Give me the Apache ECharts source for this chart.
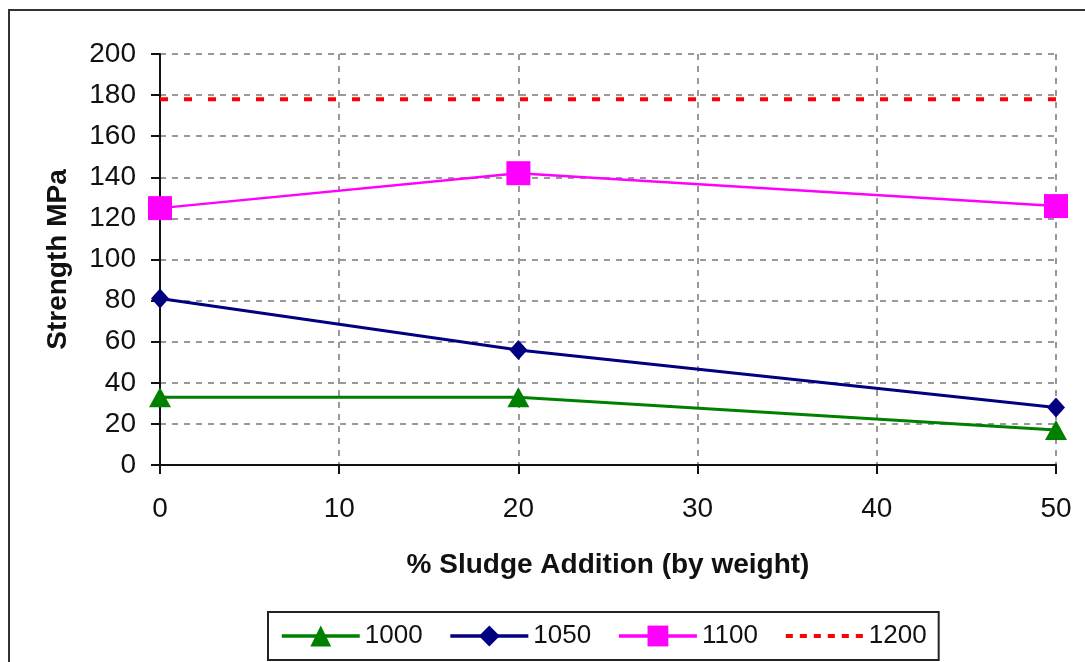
<!DOCTYPE html>
<html>
<head>
<meta charset="utf-8">
<script src="https://cdn.jsdelivr.net/npm/echarts@6/dist/echarts.min.js"></script>
<style>
  html, body { margin: 0; padding: 0; background: #fff; }
  #chart { width: 1085px; height: 662px; }
</style>
</head>
<body>
<div id="chart"></div>
<script>
// sludge addition (% by weight)
var sludge = [0, 20, 50];
var s1000 = [33, 33, 17];
var s1050 = [81, 56, 28];
var s1100 = [125, 142, 126];
var s1200 = [178, 178];
var s1200x = [0, 50];
var seriesNames = ['1000', '1050', '1100', '1200'];

function pairs(xs, ys) {
  return xs.map(function (x, i) { return [x, ys[i]]; });
}

var chart = echarts.init(document.getElementById('chart'));
var font = 'Liberation Sans, Arial, sans-serif';

var option = {
  animation: false,
  backgroundColor: '#fff',
  textStyle: { fontFamily: font },
  graphic: [{
    type: 'rect',
    shape: { x: 9, y: 10, width: 1100, height: 700 },
    style: { fill: 'none', stroke: '#333', lineWidth: 2 },
    silent: true
  }],
  grid: { left: 160, right: 29, top: 54, bottom: 197 },
  legend: {
    data: [
      seriesNames[0], seriesNames[1], seriesNames[2],
      { name: seriesNames[3], itemStyle: { opacity: 0 }, lineStyle: { type: [7, 7], width: 4 } }
    ],
    left: 268,
    top: 612,
    padding: [11, 12, 11, 12],
    itemWidth: 78,
    itemHeight: 26,
    itemGap: 26,
    borderColor: '#222',
    borderWidth: 2,
    borderRadius: 0,
    lineStyle: { width: 3.5 },
    textStyle: { fontSize: 26, color: '#111', fontFamily: font }
  },
  xAxis: {
    type: 'value',
    min: 0, max: 50, interval: 10,
    name: '% Sludge Addition (by weight)',
    nameLocation: 'middle',
    nameGap: 86,
    nameTextStyle: { fontSize: 28, fontWeight: 'bold', color: '#111' },
    axisLine: { lineStyle: { color: '#111', width: 2 } },
    axisTick: { show: true, length: 9, lineStyle: { color: '#111', width: 2 } },
    axisLabel: { fontSize: 28, color: '#111', margin: 30 },
    splitLine: { show: true, lineStyle: { color: '#999', width: 2, type: [6, 6] } }
  },
  yAxis: {
    type: 'value',
    min: 0, max: 200, interval: 20,
    name: 'Strength MPa',
    nameLocation: 'middle',
    nameGap: 88,
    nameRotate: 90,
    nameTextStyle: { fontSize: 28, fontWeight: 'bold', color: '#111' },
    axisLine: { show: true, lineStyle: { color: '#111', width: 2 } },
    axisTick: { show: true, length: 9, lineStyle: { color: '#111', width: 2 } },
    axisLabel: { fontSize: 28, color: '#111', margin: 24 },
    splitLine: { show: true, lineStyle: { color: '#999', width: 2, type: [6, 6] } }
  },
  series: [
    {
      name: '1000',
      type: 'line',
      data: pairs(sludge, s1000),
      symbol: 'triangle',
      symbolSize: [22, 20],
      itemStyle: { color: '#008000' },
      lineStyle: { color: '#008000', width: 3 }
    },
    {
      name: '1050',
      type: 'line',
      data: pairs(sludge, s1050),
      symbol: 'diamond',
      symbolSize: [18, 20],
      itemStyle: { color: '#000080' },
      lineStyle: { color: '#000080', width: 3 }
    },
    {
      name: '1100',
      type: 'line',
      data: pairs(sludge, s1100),
      symbol: 'rect',
      symbolSize: 24,
      itemStyle: { color: '#ff00ff' },
      lineStyle: { color: '#ff00ff', width: 2.5 }
    },
    {
      name: '1200',
      type: 'line',
      data: pairs(s1200x, s1200),
      symbol: 'none',
      itemStyle: { color: '#ff0000' },
      lineStyle: { color: '#ff0000', width: 4, type: [8, 16] }
    }
  ]
};

chart.setOption(option);
</script>
</body>
</html>
